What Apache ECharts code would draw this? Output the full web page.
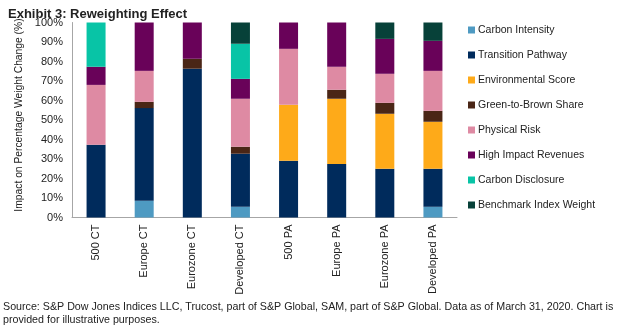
<!DOCTYPE html>
<html>
<head>
<meta charset="utf-8">
<script src="https://cdn.jsdelivr.net/npm/echarts@6/dist/echarts.min.js"></script>
<style>
html,body{margin:0;padding:0;background:#fff;}
#c{width:618px;height:328px;}
</style>
</head>
<body>
<div id="c"></div>
<script>
const categories = ['500 CT','Europe CT','Eurozone CT','Developed CT','500 PA','Europe PA','Eurozone PA','Developed PA'];
const carbonIntensity      = [0,   8.6, 0,    5.5, 0,    0,    0,    5.5];
const transitionPathway    = [37.3,47.5,76.3, 27.2,29.1, 27.5, 25.0, 19.5];
const environmentalScore   = [0,   0,   0,    0,   28.7, 33.4, 28.2, 24.1];
const greenToBrownShare    = [0,   3.2, 5.1,  3.6, 0,    4.6,  5.6,  5.6];
const physicalRisk         = [30.7,15.9,0,    24.6,28.7, 11.8, 14.9, 20.5];
const highImpactRevenues   = [9.3, 24.8,18.6, 10.2,13.5, 22.7, 17.9, 15.4];
const carbonDisclosure     = [22.7,0,   0,    18.0,0,    0,    0,    0];
const benchmarkIndexWeight = [0,   0,   0,    10.9,0,    0,    8.4,  9.4];
const yTicks = [0,10,20,30,40,50,60,70,80,90,100];

const seriesDefs = [
  ['Carbon Intensity', carbonIntensity, '#4E9AC2'],
  ['Transition Pathway', transitionPathway, '#002B5C'],
  ['Environmental Score', environmentalScore, '#FEAA19'],
  ['Green-to-Brown Share', greenToBrownShare, '#4A2616'],
  ['Physical Risk', physicalRisk, '#DE8AA3'],
  ['High Impact Revenues', highImpactRevenues, '#690259'],
  ['Carbon Disclosure', carbonDisclosure, '#08C4A6'],
  ['Benchmark Index Weight', benchmarkIndexWeight, '#074139']
];

const font = '"Liberation Sans", Arial, sans-serif';
const chart = echarts.init(document.getElementById('c'), null, {renderer:'canvas'});
chart.setOption({
  animation:false,
  textStyle:{fontFamily:font},
  title:[
    {text:'Exhibit 3: Reweighting Effect', left:3, top:3,
     textStyle:{fontFamily:font, fontSize:13, fontWeight:'bold', color:'#222'}},
    {text:'Source: S&P Dow Jones Indices LLC, Trucost, part of S&P Global, SAM, part of S&P Global. Data as of March 31, 2020. Chart is\nprovided for illustrative purposes.',
     left:3, top:300, padding:0,
     textStyle:{fontFamily:font, fontSize:10.7, fontWeight:'normal', color:'#222', lineHeight:13.5}}
  ],
  legend:{
    orient:'vertical', left:463, top:18,
    icon:'rect', itemWidth:7, itemHeight:7, itemGap:11,
    textStyle:{fontFamily:font, fontSize:10.5, color:'#222', lineHeight:14, padding:[0,0,0,-2]},
    data: seriesDefs.map(s=>s[0])
  },
  grid:{left:72, right:161, top:22.5, bottom:110.5},
  xAxis:{
    type:'category', data:categories,
    axisLine:{lineStyle:{color:'#A6A6A6', width:1}},
    axisTick:{show:false},
    axisLabel:{rotate:90, fontFamily:font, fontSize:11, color:'#222', margin:7}
  },
  yAxis:{
    type:'value', min:yTicks[0], max:yTicks[yTicks.length-1], interval:yTicks[1]-yTicks[0],
    name:'Impact on Percentage Weight Change (%)', nameLocation:'middle', nameGap:42,
    nameTextStyle:{fontFamily:font, fontSize:10.3, color:'#222', padding:[0,0,0,10]},
    axisLine:{show:true, lineStyle:{color:'#A6A6A6', width:1}},
    axisTick:{show:false},
    splitLine:{show:false},
    axisLabel:{formatter:'{value}%', fontFamily:font, fontSize:11, color:'#222', margin:9}
  },
  series: seriesDefs.map(s=>({
    name:s[0], type:'bar', stack:'total', data:s[1], barWidth:19,
    itemStyle:{color:s[2]}
  }))
});
</script>
</body>
</html>
